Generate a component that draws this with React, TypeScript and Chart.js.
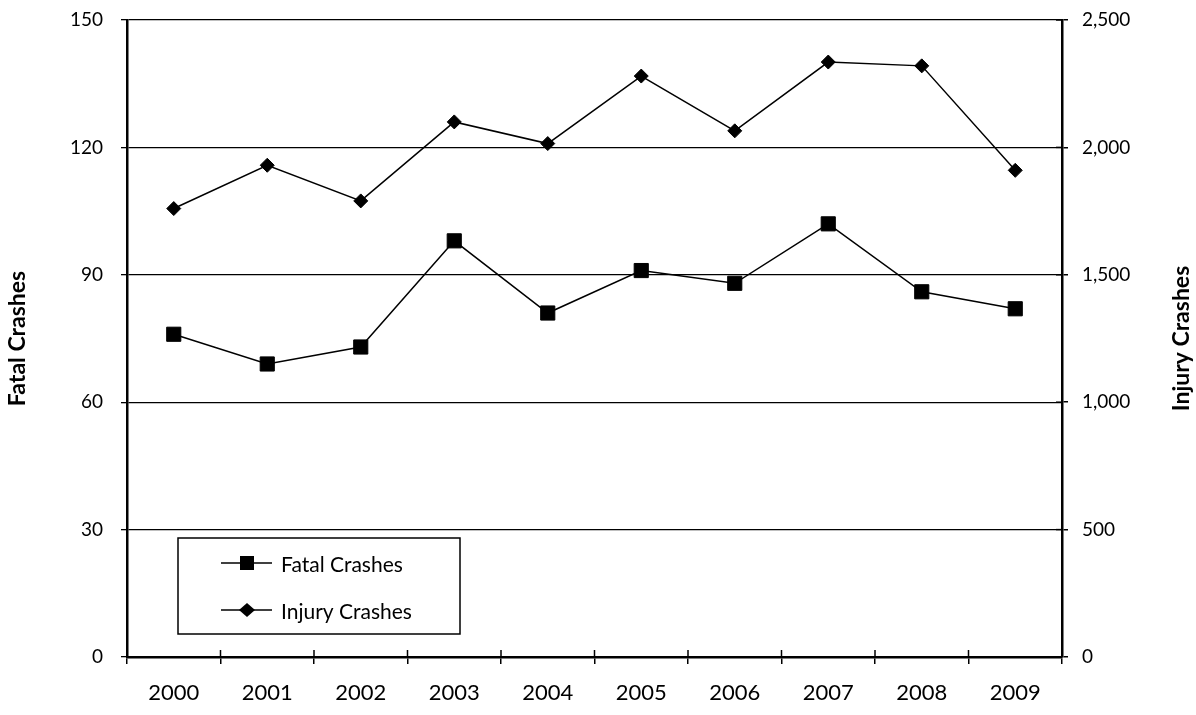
import React, { useEffect, useRef } from 'react';
import { Chart, registerables } from 'chart.js';

Chart.register(...registerables);

const years = ['2000', '2001', '2002', '2003', '2004', '2005', '2006', '2007', '2008', '2009'];
const fatalCrashes = [76, 69, 73, 98, 81, 91, 88, 102, 86, 82];
const injuryCrashes = [1760, 1930, 1790, 2100, 2015, 2280, 2065, 2335, 2320, 1910];
const fatalAxisMax = 150;
const fatalAxisStep = 30;
const injuryAxisMax = 2500;
const injuryAxisStep = 500;
const seriesNames = ['Fatal Crashes', 'Injury Crashes'];
const axisTitles = ['Fatal Crashes', 'Injury Crashes'];

const FONT = 'Lato, "Open Sans", sans-serif';

const overlayPlugin = {
  id: 'overlay',
  afterDraw(chart: any) {
    const ctx = chart.ctx;
    const { right, top, bottom } = chart.chartArea;
    ctx.save();
    ctx.strokeStyle = '#000';
    ctx.lineWidth = 1.5;
    // inner halves of tick marks (ticks cross the axes)
    const xs = chart.scales.x;
    for (let i = 0; i <= years.length; i++) {
      const px = xs.getPixelForValue(i - 0.5);
      ctx.beginPath();
      ctx.moveTo(px, bottom);
      ctx.lineTo(px, bottom - 7);
      ctx.stroke();
    }
    const ys = chart.scales.y1;
    ys.ticks.forEach((_t: any, i: number) => {
      const py = ys.getPixelForTick(i);
      ctx.beginPath();
      ctx.moveTo(right, py);
      ctx.lineTo(right - 6, py);
      ctx.stroke();
    });

    // axis titles (both read bottom-to-top)
    ctx.fillStyle = '#000';
    ctx.font = `bold 23px ${FONT}`;
    ctx.textAlign = 'center';
    ctx.textBaseline = 'middle';
    const cy = (top + bottom) / 2;
    ctx.save();
    ctx.translate(18, cy);
    ctx.rotate(-Math.PI / 2);
    ctx.fillText(axisTitles[0], 0, 0);
    ctx.restore();
    ctx.save();
    ctx.translate(1182, cy);
    ctx.rotate(-Math.PI / 2);
    ctx.fillText(axisTitles[1], 0, 0);
    ctx.restore();

    // legend box
    const bx = 178, by = 538, bw = 282, bh = 96;
    ctx.lineWidth = 1.5;
    ctx.strokeRect(bx, by, bw, bh);
    const rows = [563, 610];
    chart.data.datasets.forEach((ds: any, i: number) => {
      const y = rows[i];
      ctx.lineWidth = 1.5;
      ctx.beginPath();
      ctx.moveTo(221, y);
      ctx.lineTo(272, y);
      ctx.stroke();
      ctx.fillStyle = '#000';
      ctx.beginPath();
      if (ds.pointStyle === 'rect') {
        ctx.rect(247 - 7, y - 7, 14, 14);
      } else {
        ctx.moveTo(247 - 8, y);
        ctx.lineTo(247, y - 7);
        ctx.lineTo(247 + 8, y);
        ctx.lineTo(247, y + 7);
        ctx.closePath();
      }
      ctx.fill();
      ctx.font = `21px ${FONT}`;
      ctx.textAlign = 'left';
      ctx.textBaseline = 'middle';
      ctx.fillText(ds.label, 281, y + 2);
    });
    ctx.restore();
  },
};

export default function App() {
  const canvasRef = useRef<HTMLCanvasElement | null>(null);

  useEffect(() => {
    document.body.style.margin = '0';
    const canvas = canvasRef.current;
    if (!canvas) return;
    const chart = new Chart(canvas, {
      type: 'line',
      data: {
        labels: years,
        datasets: [
          {
            label: seriesNames[0],
            data: fatalCrashes,
            yAxisID: 'y',
            borderColor: '#000',
            backgroundColor: '#000',
            borderWidth: 1.5,
            pointStyle: 'rect',
            pointRadius: 10,
            pointBorderWidth: 1,
            pointBackgroundColor: '#000',
            pointBorderColor: '#000',
            tension: 0,
          },
          {
            label: seriesNames[1],
            data: injuryCrashes,
            yAxisID: 'y1',
            borderColor: '#000',
            backgroundColor: '#000',
            borderWidth: 1.5,
            pointStyle: 'rectRot',
            pointRadius: 7,
            pointBorderWidth: 1,
            pointBackgroundColor: '#000',
            pointBorderColor: '#000',
            tension: 0,
          },
        ],
      },
      options: {
        animation: false,
        responsive: false,
        maintainAspectRatio: false,
        layout: { padding: { top: 20, left: 0, right: 0, bottom: 0 } },
        plugins: {
          legend: { display: false },
          tooltip: { enabled: false },
          title: { display: false },
        },
        scales: {
          x: {
            type: 'category',
            offset: true,
            grid: {
              offset: true,
              drawOnChartArea: false,
              drawTicks: true,
              tickLength: 7,
              color: '#000',
              lineWidth: 1.5,
            },
            border: { color: '#000', width: 2.5 },
            ticks: {
              color: '#000',
              font: { family: FONT, size: 22 },
              padding: 16,
              maxRotation: 0,
            },
            afterFit: (s: any) => {
              s.height = 58;
              s.paddingLeft = 0;
              s.paddingRight = 0;
            },
          },
          y: {
            type: 'linear',
            position: 'left',
            min: 0,
            max: fatalAxisMax,
            ticks: {
              stepSize: fatalAxisStep,
              color: '#000',
              font: { family: FONT, size: 19 },
              padding: 18,
            },
            grid: {
              color: '#000',
              lineWidth: 1.3,
              drawTicks: true,
              tickLength: 6,
            },
            border: { color: '#000', width: 2.5 },
            afterFit: (s: any) => {
              s.width = 127;
              s.paddingTop = 0;
              s.paddingBottom = 0;
            },
          },
          y1: {
            type: 'linear',
            position: 'right',
            min: 0,
            max: injuryAxisMax,
            ticks: {
              stepSize: injuryAxisStep,
              color: '#000',
              font: { family: FONT, size: 19 },
              padding: 14,
              callback: (v: any) => Number(v).toLocaleString('en-US'),
            },
            grid: {
              drawOnChartArea: false,
              color: '#000',
              lineWidth: 1.5,
              drawTicks: true,
              tickLength: 6,
            },
            border: { color: '#000', width: 2.5 },
            afterFit: (s: any) => {
              s.width = 134;
              s.paddingTop = 0;
              s.paddingBottom = 0;
            },
          },
        },
      },
      plugins: [overlayPlugin],
    });
    return () => chart.destroy();
  }, []);

  return (
    <div style={{ position: 'relative', width: 1196, height: 715, background: '#fff' }}>
      <canvas ref={canvasRef} width={1196} height={715} style={{ display: 'block', width: 1196, height: 715 }} />
    </div>
  );
}
